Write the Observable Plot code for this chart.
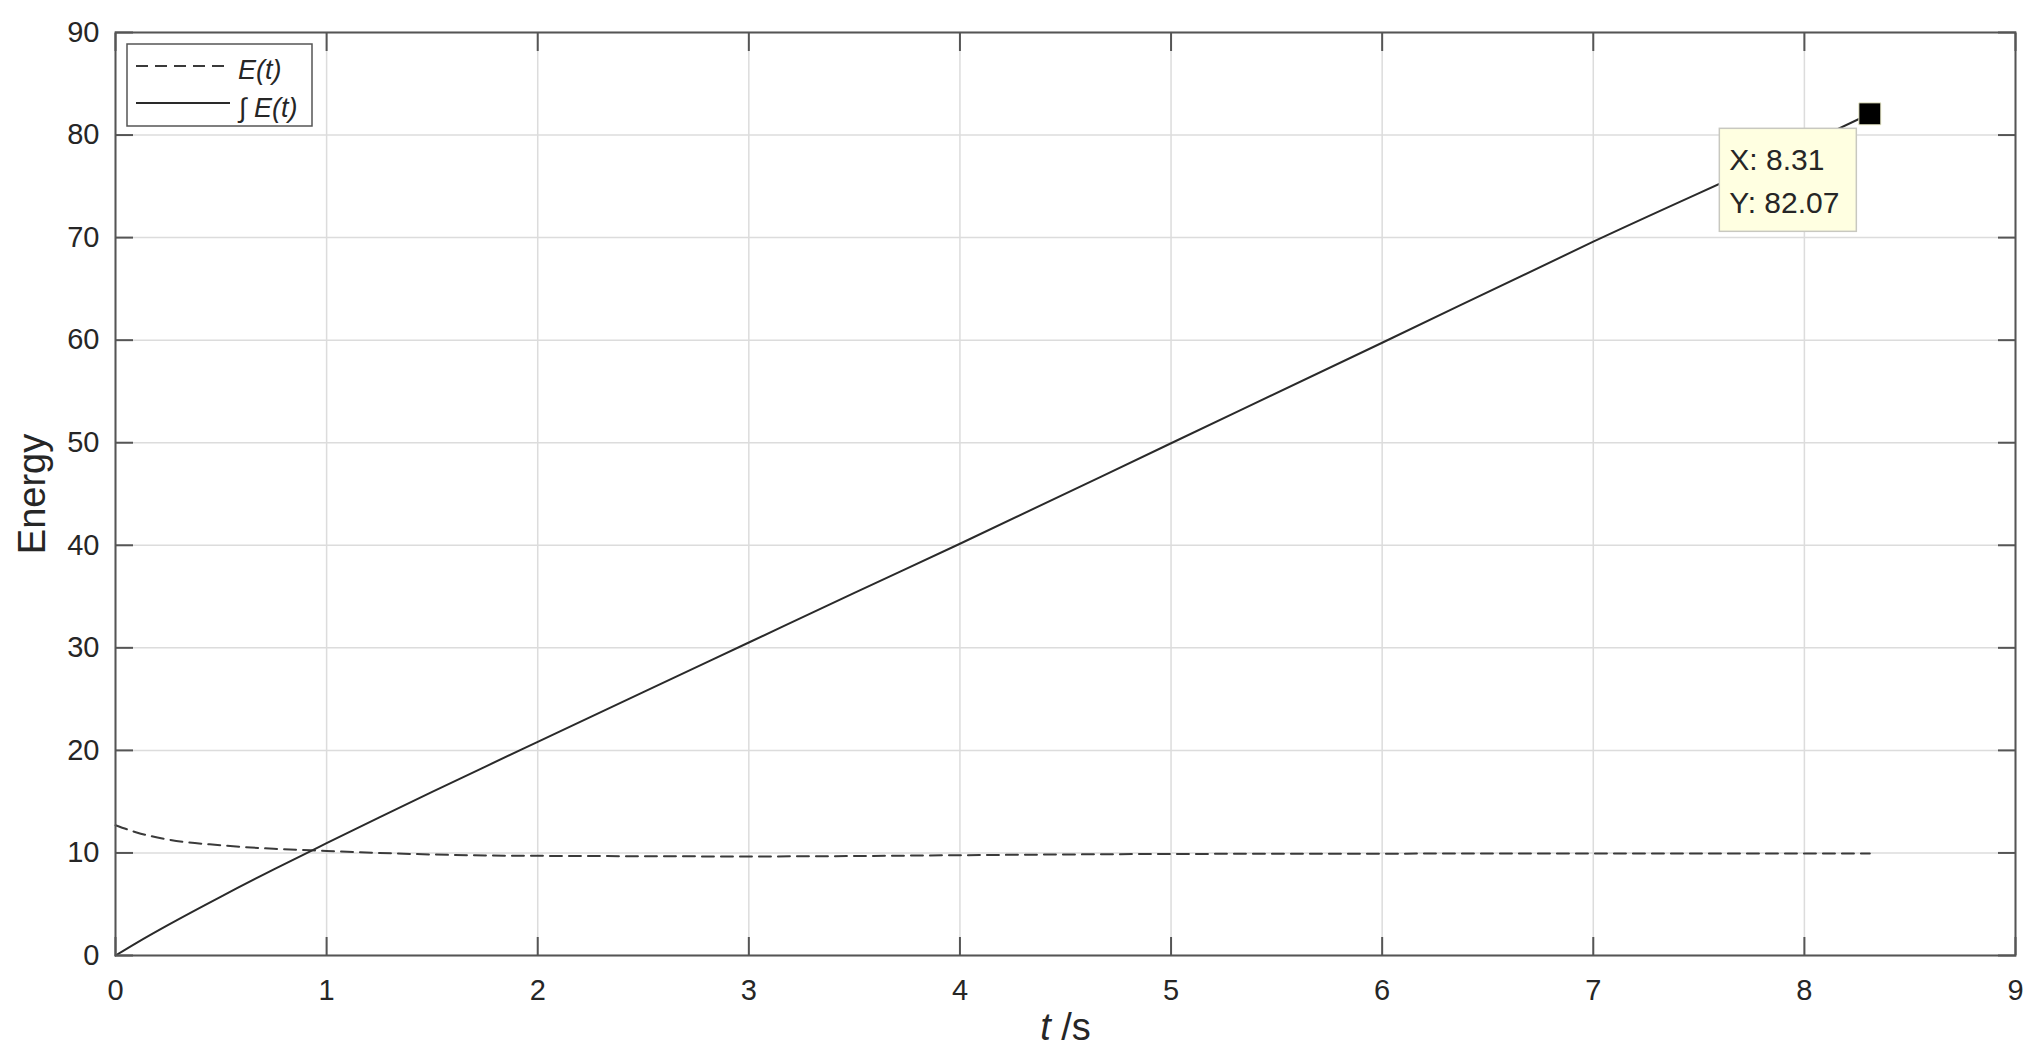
<!DOCTYPE html>
<html>
<head>
<meta charset="utf-8">
<script src="https://cdn.jsdelivr.net/npm/d3@7"></script>
<script src="https://cdn.jsdelivr.net/npm/@observablehq/plot@0.6"></script>
<style>
  html, body { margin: 0; padding: 0; background: #fff; }
  #chart svg { display: block; }
</style>
</head>
<body>
<div id="chart"></div>
<script>
// ---- data ----
const time = [0, 0.1, 0.25, 0.5, 0.75, 1, 1.25, 1.5, 1.75, 2, 2.5, 3, 3.5, 4, 5, 6, 7, 8, 8.31];
const energy = [12.7, 12.0, 11.3, 10.75, 10.4, 10.2, 10.0, 9.85, 9.75, 9.72, 9.68, 9.66, 9.7, 9.78, 9.9, 9.93, 9.95, 9.95, 9.95];
const energyIntegral = [0, 1.24, 2.99, 5.75, 8.4, 10.95, 13.47, 15.95, 18.4, 20.83, 25.68, 30.52, 35.36, 40.15, 49.95, 59.75, 69.6, 79.05, 82.07];
const xTicks = [0, 1, 2, 3, 4, 5, 6, 7, 8, 9];
const yTicks = [0, 10, 20, 30, 40, 50, 60, 70, 80, 90];
const tipX = [8.31];
const tipY = [82.07];
const legendLabels = ["E(t)", "\u222B E(t)"];
const xLabel = "t /s";
const yLabel = "Energy";

// ---- tables built from the arrays ----
const rows = time.map((t, i) => ({t, e: energy[i], ie: energyIntegral[i]}));
const tip = tipX.map((x, i) => ({x, y: tipY[i]}));

const font = "'Liberation Sans', Arial, Helvetica, sans-serif";
const axisColor = "#555";
const textColor = "#262626";
const gridColor = "#dcdcdc";
const intFmt = d3.format("d");

const chart = Plot.plot({
  width: 2035,
  height: 1064,
  marginLeft: 115,
  marginRight: 20,
  marginTop: 32,
  marginBottom: 109,
  style: {fontFamily: font, background: "#fff", color: textColor, overflow: "visible"},
  x: {domain: [0, 9]},
  y: {domain: [0, 90]},
  marks: [
    Plot.gridX(xTicks, {stroke: gridColor, strokeOpacity: 1, strokeWidth: 1.5}),
    Plot.gridY(yTicks, {stroke: gridColor, strokeOpacity: 1, strokeWidth: 1.5}),
    Plot.line(rows, {x: "t", y: "e", stroke: "#3a3a3a", strokeWidth: 2, strokeDasharray: "12,7", curve: "monotone-x"}),
    Plot.line(rows, {x: "t", y: "ie", stroke: "#2a2a2a", strokeWidth: 2, curve: "monotone-x"}),
    Plot.frame({stroke: axisColor, strokeWidth: 2}),
    // inward tick marks on all four sides
    Plot.axisX(xTicks, {anchor: "bottom", tickSize: 18, dy: -18, fill: "none", label: null, stroke: axisColor, strokeWidth: 2}),
    Plot.axisX(xTicks, {anchor: "top", tickSize: 18, dy: 18, fill: "none", label: null, stroke: axisColor, strokeWidth: 2}),
    Plot.axisY(yTicks, {anchor: "left", tickSize: 18, dx: 18, fill: "none", label: null, stroke: axisColor, strokeWidth: 2}),
    Plot.axisY(yTicks, {anchor: "right", tickSize: 18, dx: -18, fill: "none", label: null, stroke: axisColor, strokeWidth: 2}),
    // tick labels
    Plot.axisX(xTicks, {anchor: "bottom", tickSize: 0, tickPadding: 24, fontSize: 29, label: null, fill: textColor, tickFormat: intFmt}),
    Plot.axisY(yTicks, {anchor: "left", tickSize: 0, tickPadding: 16, fontSize: 29, label: null, fill: textColor, tickFormat: intFmt}),
    // axis titles
    Plot.text([yLabel], {frameAnchor: "left", dx: -83, rotate: -90, textAnchor: "middle", fontSize: 38, fill: textColor}),
    Plot.text([xLabel], {frameAnchor: "bottom", dy: 84, textAnchor: "middle", fontSize: 38, fill: textColor}),
    // data tip marker
    Plot.dot(tip, {x: "x", y: "y", symbol: "square", r: 12.4, fill: "#000", stroke: "#eeeecc", strokeWidth: 1})
  ]
});

document.getElementById("chart").appendChild(chart);

// ---- post-processing: italic t, legend, data tip box ----
const svg = d3.select(chart);
svg.selectAll("text").each(function() {
  const el = d3.select(this);
  if (el.text() === xLabel) {
    el.text(null);
    el.append("tspan").attr("font-style", "italic").text("t");
    el.append("tspan").text(" /s");
  }
});

const ml = 115, mt = 32;
const leg = svg.append("g").attr("font-family", font).attr("text-anchor", "start");
leg.append("rect").attr("x", ml + 12).attr("y", mt + 12).attr("width", 185).attr("height", 82)
  .attr("fill", "#fff").attr("stroke", axisColor).attr("stroke-width", 1.5);
leg.append("line").attr("x1", ml + 21).attr("x2", ml + 113).attr("y1", mt + 34).attr("y2", mt + 34)
  .attr("stroke", "#3a3a3a").attr("stroke-width", 2).attr("stroke-dasharray", "12,7");
leg.append("line").attr("x1", ml + 21).attr("x2", ml + 115).attr("y1", mt + 71).attr("y2", mt + 71)
  .attr("stroke", "#2a2a2a").attr("stroke-width", 2);
leg.append("text").attr("x", ml + 123).attr("y", mt + 47).attr("font-size", 27).attr("font-style", "italic")
  .attr("fill", textColor).text(legendLabels[0]);
leg.append("text").attr("x", ml + 124).attr("y", mt + 85).attr("font-size", 27).attr("font-style", "italic")
  .attr("fill", textColor).text(legendLabels[1]);

const sx = chart.scale("x"), sy = chart.scale("y");
const px = sx.apply(tipX[0]), py = sy.apply(tipY[0]);
const tg = svg.append("g").attr("font-family", font).attr("text-anchor", "start");
tg.append("rect").attr("x", px - 150).attr("y", py + 15).attr("width", 137).attr("height", 103)
  .attr("fill", "#ffffe1").attr("stroke", "#c8c8c0").attr("stroke-width", 1.5);
tg.append("text").attr("x", px - 140).attr("y", py + 57).attr("font-size", 30).attr("fill", textColor)
  .text("X: " + tipX[0].toFixed(2));
tg.append("text").attr("x", px - 140).attr("y", py + 100).attr("font-size", 30).attr("fill", textColor)
  .text("Y: " + tipY[0].toFixed(2));
</script>
</body>
</html>
